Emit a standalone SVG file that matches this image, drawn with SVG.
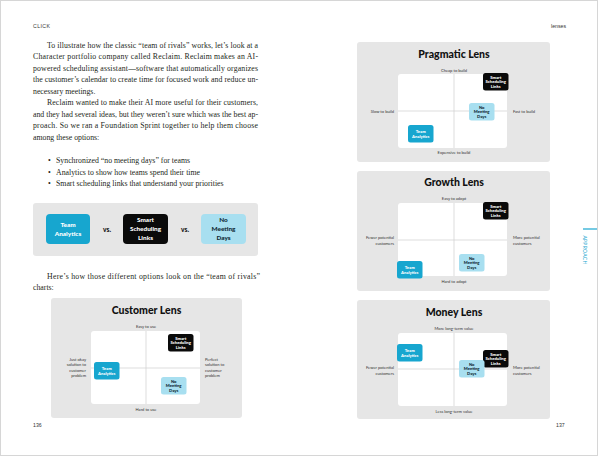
<svg xmlns="http://www.w3.org/2000/svg" width="600" height="457" viewBox="0 0 600 457">
<style>
.page{fill:#fff;stroke:#d6d6d6;stroke-width:1}
.body{font-family:"Liberation Serif",serif;font-size:7.8px;fill:#231f20}
.hdr{font-family:"Liberation Sans",sans-serif;font-size:5.2px;fill:#333}
.panel{fill:#e6e6e6}
.quad{fill:#fff}
.axis{stroke:#cfcfcf;stroke-width:0.7}
.title{font-family:Lato,"DejaVu Sans",sans-serif;font-weight:900;font-size:10.5px;fill:#111;text-anchor:middle}
.lbl{font-family:Lato,"DejaVu Sans",sans-serif;font-size:4.1px;fill:#333}
.mid{text-anchor:middle}
.end{text-anchor:end}
.ta{fill:#17a6cf}
.ssl{fill:#0a0a0a}
.nmd{fill:#a8dff0}
.nt{font-family:Lato,"DejaVu Sans",sans-serif;font-weight:900;font-size:4.2px;text-anchor:middle}
.bt{font-family:Lato,"DejaVu Sans",sans-serif;font-weight:900;font-size:6.4px;text-anchor:middle}
.w{fill:#fff}
.dk{fill:#0f2a36}
.vs{font-family:Lato,"DejaVu Sans",sans-serif;font-weight:900;font-size:6.6px;fill:#111;text-anchor:middle}
.tab{font-family:Lato,"DejaVu Sans",sans-serif;font-size:5px;fill:#1aa7d0;letter-spacing:0.3px;text-anchor:middle}
</style>
<rect class="page" x="0.5" y="0.5" width="597" height="455"/>

<g id="header">
<text class="hdr" x="33" y="28" letter-spacing="0.4">CLICK</text>
<text class="hdr" x="551" y="28">lenses</text>
<text class="hdr" x="33" y="427" font-size="6">136</text>
<text class="hdr" x="556" y="427" font-size="6">137</text>
</g>

<g id="body-text">
<text class="body" x="47" y="47.5" textLength="211" lengthAdjust="spacing">To illustrate how the classic “team of rivals” works, let’s look at a</text>
<text class="body" x="33" y="59" textLength="225" lengthAdjust="spacing">Character portfolio company called Reclaim. Reclaim makes an AI-</text>
<text class="body" x="33" y="70.5" textLength="225" lengthAdjust="spacing">powered scheduling assistant—software that automatically organizes</text>
<text class="body" x="33" y="82" textLength="225" lengthAdjust="spacing">the customer’s calendar to create time for focused work and reduce un-</text>
<text class="body" x="33" y="93.5">necessary meetings.</text>
<text class="body" x="47" y="105" textLength="211" lengthAdjust="spacing">Reclaim wanted to make their AI more useful for their customers,</text>
<text class="body" x="33" y="116.5" textLength="225" lengthAdjust="spacing">and they had several ideas, but they weren’t sure which was the best ap-</text>
<text class="body" x="33" y="128" textLength="225" lengthAdjust="spacing">proach. So we ran a Foundation Sprint together to help them choose</text>
<text class="body" x="33" y="139.5">among these options:</text>
<text class="body" x="48" y="163">•</text>
<text class="body" x="56" y="163">Synchronized “no meeting days” for teams</text>
<text class="body" x="48" y="174.5">•</text>
<text class="body" x="56" y="174.5">Analytics to show how teams spend their time</text>
<text class="body" x="48" y="186">•</text>
<text class="body" x="56" y="186">Smart scheduling links that understand your priorities</text>
<text class="body" x="47" y="278.5" textLength="213" lengthAdjust="spacing">Here’s how those different options look on the “team of rivals”</text>
<text class="body" x="33" y="290">charts:</text>
</g>

<g id="options">
<rect class="panel" x="33" y="203" width="225" height="53" rx="3"/>
<g id="opt-team-analytics">
<rect class="ta" x="46" y="214" width="44" height="30" rx="4"/>
<text class="bt w" x="68" y="227">Team</text>
<text class="bt w" x="68" y="235.6">Analytics</text>
</g>
<text class="vs" x="107" y="231.5">vs.</text>
<g id="opt-smart-scheduling">
<rect class="ssl" x="123" y="214" width="45" height="30" rx="4"/>
<text class="bt w" x="145.5" y="222.3">Smart</text>
<text class="bt w" x="145.5" y="231">Scheduling</text>
<text class="bt w" x="145.5" y="239.6">Links</text>
</g>
<text class="vs" x="185" y="231.5">vs.</text>
<g id="opt-no-meeting">
<rect class="nmd" x="201" y="214" width="45" height="30" rx="4"/>
<text class="bt dk" x="223.5" y="222.3">No</text>
<text class="bt dk" x="223.5" y="231">Meeting</text>
<text class="bt dk" x="223.5" y="239.6">Days</text>
</g>
</g>

<!-- Customer Lens -->
<g id="customer-lens">
<rect class="panel" x="51" y="298" width="191" height="120" rx="3"/>
<text class="title" x="146.5" y="314">Customer Lens</text>
<rect class="quad" x="91" y="331" width="109" height="73" rx="3"/>
<text class="lbl mid" x="146" y="327.5">Easy to use</text>
<text class="lbl mid" x="146" y="410.5">Hard to use</text>
<text class="lbl end" x="86" y="360.5">Just okay</text>
<text class="lbl end" x="86" y="366">solution to</text>
<text class="lbl end" x="86" y="371.5">customer</text>
<text class="lbl end" x="86" y="377">problem</text>
<text class="lbl" x="205" y="360.5">Perfect</text>
<text class="lbl" x="205" y="366">solution to</text>
<text class="lbl" x="205" y="371.5">customer</text>
<text class="lbl" x="205" y="377">problem</text>
</g>

<!-- Pragmatic Lens -->
<g id="pragmatic-lens">
<rect class="panel" x="357" y="42" width="193" height="120" rx="3"/>
<text class="title" x="454" y="58">Pragmatic Lens</text>
<rect class="quad" x="398" y="74" width="109" height="74" rx="3"/>
<text class="lbl mid" x="454" y="71.5">Cheap to build</text>
<text class="lbl mid" x="454" y="153.5">Expensive to build</text>
<text class="lbl end" x="394" y="112.5">Slow to build</text>
<text class="lbl" x="513" y="112.5">Fast to build</text>
</g>

<!-- Growth Lens -->
<g id="growth-lens">
<rect class="panel" x="357" y="171" width="193" height="120" rx="3"/>
<text class="title" x="454" y="186">Growth Lens</text>
<rect class="quad" x="398" y="203" width="109" height="73" rx="3"/>
<text class="lbl mid" x="454" y="199.5">Easy to adopt</text>
<text class="lbl mid" x="454" y="282.5">Hard to adopt</text>
<text class="lbl end" x="394" y="238.5">Fewer potential</text>
<text class="lbl end" x="394" y="245">customers</text>
<text class="lbl" x="513" y="238.5">More potential</text>
<text class="lbl" x="513" y="245">customers</text>
</g>

<!-- Money Lens -->
<g id="money-lens">
<rect class="panel" x="357" y="300" width="193" height="119" rx="3"/>
<text class="title" x="454" y="316">Money Lens</text>
<rect class="quad" x="398" y="333" width="109" height="73" rx="3"/>
<text class="lbl mid" x="454" y="329.5">More long-term value</text>
<text class="lbl mid" x="454" y="412.5">Less long-term value</text>
<text class="lbl end" x="394" y="368.5">Fewer potential</text>
<text class="lbl end" x="394" y="375">customers</text>
<text class="lbl" x="513" y="368.5">More potential</text>
<text class="lbl" x="513" y="375">customers</text>
</g>

<g id="connectors">
<line class="axis" x1="146" y1="331" x2="146" y2="404"/>
<line class="axis" x1="91" y1="368" x2="200" y2="368"/>
<line class="axis" x1="454" y1="74" x2="454" y2="148"/>
<line class="axis" x1="398" y1="111" x2="507" y2="111"/>
<line class="axis" x1="454" y1="203" x2="454" y2="276"/>
<line class="axis" x1="398" y1="240" x2="507" y2="240"/>
<line class="axis" x1="454" y1="333" x2="454" y2="406"/>
<line class="axis" x1="398" y1="369" x2="507" y2="369"/>
</g>

<!-- nodes in Customer Lens -->
<g id="cl-team-analytics">
<rect class="ta" x="94" y="362" width="25.5" height="17.5" rx="2.5"/>
<text class="nt w" x="106.7" y="370">Team</text>
<text class="nt w" x="106.7" y="374.8">Analytics</text>
</g>
<g id="cl-smart-scheduling">
<rect class="ssl" x="168" y="334" width="25.5" height="17.5" rx="2.5"/>
<text class="nt w" x="180.7" y="339.6">Smart</text>
<text class="nt w" x="180.7" y="344.4">Scheduling</text>
<text class="nt w" x="180.7" y="349.2">Links</text>
</g>
<g id="cl-no-meeting">
<rect class="nmd" x="161" y="377" width="25.5" height="17.5" rx="2.5"/>
<text class="nt dk" x="173.7" y="382.6">No</text>
<text class="nt dk" x="173.7" y="387.4">Meeting</text>
<text class="nt dk" x="173.7" y="392.2">Days</text>
</g>

<!-- nodes in Pragmatic Lens -->
<g id="pl-smart-scheduling">
<rect class="ssl" x="483" y="73" width="25.5" height="17.5" rx="2.5"/>
<text class="nt w" x="495.7" y="78.6">Smart</text>
<text class="nt w" x="495.7" y="83.4">Scheduling</text>
<text class="nt w" x="495.7" y="88.2">Links</text>
</g>
<g id="pl-no-meeting">
<rect class="nmd" x="469" y="103" width="25.5" height="17.5" rx="2.5"/>
<text class="nt dk" x="481.7" y="108.6">No</text>
<text class="nt dk" x="481.7" y="113.4">Meeting</text>
<text class="nt dk" x="481.7" y="118.2">Days</text>
</g>
<g id="pl-team-analytics">
<rect class="ta" x="408" y="125" width="25.5" height="17.5" rx="2.5"/>
<text class="nt w" x="420.7" y="133">Team</text>
<text class="nt w" x="420.7" y="137.8">Analytics</text>
</g>

<!-- nodes in Growth Lens -->
<g id="gl-smart-scheduling">
<rect class="ssl" x="483" y="202" width="25.5" height="17.5" rx="2.5"/>
<text class="nt w" x="495.7" y="207.6">Smart</text>
<text class="nt w" x="495.7" y="212.4">Scheduling</text>
<text class="nt w" x="495.7" y="217.2">Links</text>
</g>
<g id="gl-no-meeting">
<rect class="nmd" x="459" y="254" width="25.5" height="17.5" rx="2.5"/>
<text class="nt dk" x="471.7" y="259.6">No</text>
<text class="nt dk" x="471.7" y="264.4">Meeting</text>
<text class="nt dk" x="471.7" y="269.2">Days</text>
</g>
<g id="gl-team-analytics">
<rect class="ta" x="397" y="261" width="25.5" height="17.5" rx="2.5"/>
<text class="nt w" x="409.7" y="269">Team</text>
<text class="nt w" x="409.7" y="273.8">Analytics</text>
</g>

<!-- nodes in Money Lens -->
<g id="ml-team-analytics">
<rect class="ta" x="397" y="344" width="25.5" height="17.5" rx="2.5"/>
<text class="nt w" x="409.7" y="352">Team</text>
<text class="nt w" x="409.7" y="356.8">Analytics</text>
</g>
<g id="ml-smart-scheduling">
<rect class="ssl" x="483" y="350" width="25.5" height="17.5" rx="2.5"/>
<text class="nt w" x="495.7" y="355.6">Smart</text>
<text class="nt w" x="495.7" y="360.4">Scheduling</text>
<text class="nt w" x="495.7" y="365.2">Links</text>
</g>
<g id="ml-no-meeting">
<rect class="nmd" x="459" y="360" width="25.5" height="17.5" rx="2.5"/>
<text class="nt dk" x="471.7" y="365.6">No</text>
<text class="nt dk" x="471.7" y="370.4">Meeting</text>
<text class="nt dk" x="471.7" y="375.2">Days</text>
</g>

<g id="section-tab">
<line x1="583" y1="229" x2="597" y2="229" stroke="#1aa7d0" stroke-width="1.2"/>
<text class="tab" transform="translate(582.5,250) rotate(90)">APPROACH</text>
</g>
</svg>
